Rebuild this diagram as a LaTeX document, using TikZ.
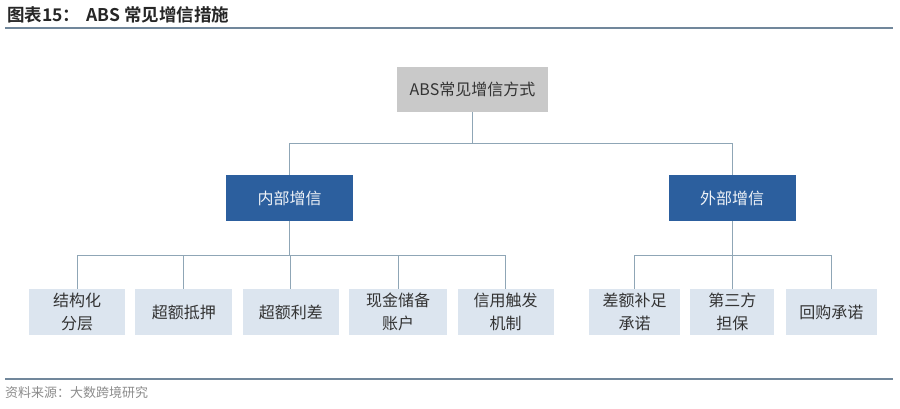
\documentclass[tikz,border=0pt]{standalone}
\usepackage{fontspec}
\setmainfont{Liberation Sans}
\newfontfamily\cjk[BoldFont={Noto Sans CJK SC Bold}]{Noto Sans CJK SC}
\usepackage{xcolor}
\definecolor{cTop}{HTML}{C9C9C9}
\definecolor{cMid}{HTML}{2C5F9E}
\definecolor{cLeaf}{HTML}{DCE5EF}
\definecolor{cLine}{HTML}{8FA6B6}
\definecolor{cRule}{HTML}{71879B}
\definecolor{cText}{HTML}{333333}
\usetikzlibrary{positioning}
\tikzset{
  node-top/.style={fill=cTop,minimum width=151pt,minimum height=45pt,
    inner sep=0pt,align=center,text=cText,font=\cjk\fontsize{16}{19}\selectfont},
  node-mid/.style={fill=cMid,minimum width=127pt,minimum height=46pt,
    inner sep=0pt,align=center,text=white!92!cMid,font=\cjk\fontsize{16}{19}\selectfont},
  node-leaf/.style={fill=cLeaf,minimum height=46pt,inner sep=0pt,
    align=center,text=cText,font=\cjk\fontsize{16}{23}\selectfont},
  link/.style={draw=cLine,line width=1pt},
  rule/.style={draw=cRule,line width=1.6pt},
}

\begin{document}
\begin{tikzpicture}[x=1pt,y=-1pt,node distance=10pt]
  \useasboundingbox (0,0) rectangle (900,408);
  % title and rules
  \node[anchor=west,inner sep=0pt,text=black!85,font=\cjk\bfseries\fontsize{17.5}{20}\selectfont]
       (title) at (7,15) {图表15：\hspace{6pt}ABS 常见增信措施};
  \draw[rule] (5,28) -- (893,28);
  \draw[rule] (5,379) -- (893,379);
  \node[anchor=west,inner sep=0pt,text=black!45,font=\cjk\fontsize{13}{15}\selectfont]
       (src) at (5,393) {资料来源：大数跨境研究};

  % tree
  \node[node-top] (top) at (472.5,89.5) {ABS常见增信方式};
  \node[node-mid] (inner) at (289.5,198) {内部增信};
  \node[node-mid] (outer) at (732,198) {外部增信};

  \node[node-leaf,minimum width=96pt] (l1) at (77,312) {结构化\\分层};
  \node[node-leaf,minimum width=97pt,right=of l1] (l2) {超额抵押};
  \node[node-leaf,minimum width=96pt,right=of l2] (l3) {超额利差};
  \node[node-leaf,minimum width=98pt,right=of l3] (l4) {现金储备\\账户};
  \node[node-leaf,minimum width=96pt,right=of l4] (l5) {信用触发\\机制};

  \node[node-leaf,minimum width=91pt] (r1) at (634.5,312) {差额补足\\承诺};
  \node[node-leaf,minimum width=84pt,right=of r1] (r2) {第三方\\担保};
  \node[node-leaf,minimum width=91pt,right=11pt of r2] (r3) {回购承诺};

  \foreach \m in {inner,outer}
    \draw[link] (top.south) -- ++(0,31) -| (\m.north);
  \foreach \m in {l1,l2,l3,l4,l5}
    \draw[link] (inner.south) -- ++(0,34) -| (\m.north);
  \foreach \m in {r1,r2,r3}
    \draw[link] (outer.south) -- ++(0,34) -| (\m.north);
\end{tikzpicture}
\end{document}
